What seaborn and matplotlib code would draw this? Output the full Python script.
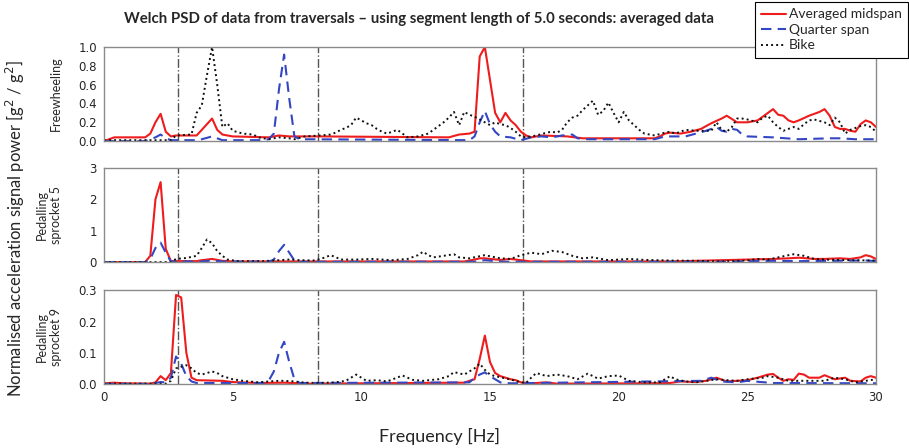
import numpy as np
import pandas as pd
import seaborn as sns
import matplotlib
matplotlib.use("Agg")
import matplotlib.pyplot as plt

# ---- data (frequency in Hz, normalised PSD) ----
series_names = ["Averaged midspan", "Quarter span", "Bike"]
panel_names = ["Freewheeling", "Pedalling\nsprocket 5", "Pedalling\nsprocket 9"]
marker_freqs = [2.87, 8.33, 16.27]

# Freewheeling
fw_mid_f = [0, 0.4, 1.6, 1.8, 2.0, 2.2, 2.4, 2.6, 2.8, 3.6,
            3.8, 4.0, 4.2, 4.4, 4.6, 5.0, 6.4, 6.8, 7.2, 8.4,
            13.4, 13.8, 14.2, 14.4, 14.6, 14.8, 15.0, 15.2, 15.4, 15.6,
            15.8, 16.0, 16.2, 16.4, 16.6, 17.0, 18.0, 18.6, 19.0, 21.4,
            21.6, 21.8, 22.0, 22.4, 22.8, 23.2, 23.6, 24.0, 24.2, 24.6,
            25.0, 25.4, 25.8, 26.0, 26.2, 26.4, 26.6, 26.8, 27.0, 27.4,
            27.8, 28.0, 28.2, 28.4, 28.6, 28.8, 29.0, 29.2, 29.4, 29.6,
            29.8, 30.0]
fw_mid = [0.0, 0.04, 0.04, 0.08, 0.2, 0.29, 0.1, 0.05, 0.06, 0.06,
          0.12, 0.18, 0.24, 0.12, 0.07, 0.05, 0.04, 0.06, 0.05, 0.05,
          0.04, 0.07, 0.08, 0.1, 0.9, 1.0, 0.65, 0.3, 0.2, 0.3,
          0.22, 0.17, 0.1, 0.06, 0.04, 0.06, 0.05, 0.03, 0.03, 0.03,
          0.05, 0.08, 0.09, 0.08, 0.1, 0.13, 0.19, 0.24, 0.27, 0.2,
          0.2, 0.22, 0.3, 0.34, 0.28, 0.27, 0.22, 0.2, 0.22, 0.27,
          0.31, 0.34, 0.27, 0.15, 0.13, 0.13, 0.11, 0.1, 0.18, 0.22,
          0.2, 0.15]

fw_qtr_f = [0, 1.6, 1.8, 2.0, 2.2, 2.4, 2.6, 3.6, 3.8, 4.2,
            4.4, 4.6, 6.2, 6.4, 6.6, 6.8, 7.0, 7.2, 7.4, 7.6,
            14.2, 14.4, 14.6, 14.8, 15.0, 15.2, 15.4, 15.8, 16.2, 16.6,
            17.0, 17.4, 17.8, 18.2, 18.4, 18.8, 21.4, 21.8, 22.6, 23.0,
            23.4, 23.8, 24.0, 24.2, 24.4, 24.6, 24.8, 25.0, 26.0, 27.0,
            28.2, 28.6, 29.2, 30.0]
fw_qtr = [0.0, 0.0, 0.02, 0.04, 0.07, 0.03, 0.01, 0.01, 0.02, 0.05,
          0.03, 0.01, 0.01, 0.02, 0.08, 0.55, 0.92, 0.45, 0.05, 0.02,
          0.01, 0.05, 0.2, 0.32, 0.18, 0.1, 0.05, 0.04, 0.01, 0.04,
          0.05, 0.04, 0.06, 0.07, 0.03, 0.02, 0.02, 0.05, 0.05, 0.08,
          0.11, 0.15, 0.11, 0.1, 0.13, 0.12, 0.07, 0.05, 0.04, 0.02,
          0.03, 0.03, 0.02, 0.02]

fw_bike_f = [0, 2.6, 2.8, 3.4, 3.6, 3.8, 4.0, 4.2, 4.4, 4.6,
             4.8, 5.0, 5.4, 5.8, 6.0, 6.4, 6.8, 7.2, 7.4, 7.8,
             8.4, 8.8, 9.0, 9.2, 9.4, 9.6, 9.8, 10.0, 10.2, 10.4,
             10.6, 10.8, 11.0, 11.2, 11.4, 11.6, 11.8, 12.2, 12.6, 12.8,
             13.0, 13.2, 13.4, 13.6, 13.8, 14.0, 14.2, 14.4, 14.6, 14.8,
             15.0, 15.2, 15.4, 15.6, 15.8, 16.0, 16.2, 16.4, 16.8, 17.2,
             17.4, 17.6, 17.8, 18.0, 18.2, 18.4, 18.6, 18.8, 19.0, 19.2,
             19.4, 19.6, 19.8, 20.0, 20.2, 20.4, 20.6, 20.8, 21.0, 21.4,
             21.8, 22.0, 22.2, 22.6, 23.0, 23.6, 23.8, 24.0, 24.2, 24.4,
             24.6, 24.8, 25.0, 25.4, 25.6, 25.8, 26.0, 26.2, 26.4, 26.8,
             27.0, 27.2, 27.4, 27.6, 28.0, 28.2, 28.4, 28.6, 28.8, 29.0,
             29.4, 29.6, 29.8, 30.0]
fw_bike = [0.01, 0.01, 0.06, 0.07, 0.3, 0.38, 0.7, 1.0, 0.6, 0.15,
           0.19, 0.11, 0.08, 0.07, 0.04, 0.02, 0.04, 0.03, 0.02, 0.05,
           0.06, 0.07, 0.09, 0.12, 0.14, 0.17, 0.25, 0.22, 0.19, 0.17,
           0.13, 0.1, 0.08, 0.1, 0.12, 0.08, 0.04, 0.05, 0.08, 0.12,
           0.16, 0.2, 0.25, 0.31, 0.17, 0.31, 0.28, 0.26, 0.23, 0.2,
           0.17, 0.2, 0.18, 0.17, 0.14, 0.1, 0.05, 0.04, 0.06, 0.09,
           0.1, 0.09, 0.12, 0.2, 0.25, 0.27, 0.33, 0.38, 0.43, 0.28,
           0.32, 0.41, 0.3, 0.2, 0.31, 0.22, 0.17, 0.12, 0.08, 0.06,
           0.09, 0.1, 0.08, 0.12, 0.11, 0.11, 0.2, 0.12, 0.1, 0.15,
           0.24, 0.24, 0.23, 0.2, 0.25, 0.27, 0.2, 0.15, 0.11, 0.15,
           0.13, 0.18, 0.22, 0.23, 0.2, 0.17, 0.25, 0.2, 0.08, 0.12,
           0.16, 0.17, 0.15, 0.1]

# Pedalling sprocket 5
p5_mid_f = [0, 1.6, 1.8, 2.0, 2.2, 2.4, 2.6, 3.6, 3.8, 4.0,
            4.2, 4.4, 4.6, 5.0, 14.0, 14.4, 14.6, 14.8, 15.0, 15.4,
            15.8, 16.2, 16.6, 22.0, 23.0, 24.0, 25.0, 26.0, 26.6, 27.0,
            27.6, 28.0, 28.6, 29.0, 29.4, 29.6, 29.8, 30.0]
p5_mid = [0.0, 0.0, 0.2, 2.0, 2.55, 0.42, 0.03, 0.03, 0.06, 0.08,
          0.1, 0.07, 0.04, 0.02, 0.02, 0.08, 0.12, 0.12, 0.1, 0.07,
          0.1, 0.06, 0.02, 0.02, 0.04, 0.06, 0.08, 0.1, 0.12, 0.14,
          0.1, 0.1, 0.12, 0.1, 0.15, 0.22, 0.18, 0.1]

p5_qtr_f = [0, 1.6, 1.8, 2.0, 2.2, 2.4, 2.6, 3.8, 4.2, 4.6,
            6.4, 6.6, 6.8, 7.0, 7.2, 7.4, 7.6, 14.4, 14.8, 15.2,
            15.6, 24.0, 26.0, 27.0, 29.6, 30.0]
p5_qtr = [0.0, 0.0, 0.1, 0.45, 0.62, 0.3, 0.02, 0.02, 0.05, 0.02,
          0.01, 0.08, 0.35, 0.55, 0.3, 0.05, 0.01, 0.01, 0.06, 0.03,
          0.01, 0.01, 0.04, 0.03, 0.05, 0.03]

p5_bike_f = [0, 2.6, 2.8, 3.2, 3.6, 3.8, 4.0, 4.2, 4.4, 4.6,
             4.8, 5.2, 6.2, 6.8, 7.2, 7.6, 8.2, 8.6, 8.8, 9.0,
             9.2, 9.8, 10.4, 11.2, 11.8, 12.2, 12.4, 12.6, 12.8, 13.2,
             13.6, 13.8, 14.2, 14.8, 15.4, 15.8, 16.2, 16.6, 17.0, 17.4,
             17.8, 18.2, 18.6, 19.0, 19.6, 20.4, 21.0, 22.0, 23.0, 24.0,
             25.0, 25.4, 25.8, 26.2, 26.6, 26.8, 27.2, 27.6, 28.0, 29.0,
             30.0]
p5_bike = [0.0, 0.0, 0.1, 0.13, 0.2, 0.45, 0.72, 0.6, 0.35, 0.2,
           0.08, 0.03, 0.03, 0.06, 0.08, 0.06, 0.05, 0.15, 0.22, 0.16,
           0.08, 0.08, 0.1, 0.06, 0.1, 0.22, 0.33, 0.22, 0.15, 0.2,
           0.25, 0.15, 0.12, 0.22, 0.12, 0.1, 0.22, 0.3, 0.25, 0.36,
           0.32, 0.2, 0.12, 0.15, 0.06, 0.1, 0.07, 0.05, 0.04, 0.02,
           0.05, 0.1, 0.08, 0.15, 0.22, 0.25, 0.2, 0.1, 0.08, 0.06,
           0.05]

# Pedalling sprocket 9
p9_mid_f = [0, 0.4, 0.8, 1.8, 2.0, 2.2, 2.4, 2.6, 2.8, 3.0,
            3.2, 3.4, 3.6, 4.6, 5.0, 6.0, 7.0, 8.0, 12.0, 14.0,
            14.2, 14.4, 14.6, 14.8, 15.0, 15.2, 15.4, 15.6, 15.8, 16.0,
            16.2, 16.6, 17.2, 17.6, 21.0, 22.0, 22.4, 23.0, 23.4, 23.8,
            24.2, 24.6, 25.0, 25.4, 25.8, 26.0, 26.2, 26.4, 26.6, 26.8,
            27.0, 27.2, 27.4, 27.8, 28.0, 28.4, 28.8, 29.0, 29.4, 29.6,
            29.8, 30.0]
p9_mid = [0.002, 0.004, 0.002, 0.001, 0.005, 0.025, 0.012, 0.035, 0.285, 0.277,
          0.1, 0.02, 0.012, 0.01, 0.006, 0.003, 0.004, 0.001, 0.003, 0.004,
          0.01, 0.015, 0.08, 0.155, 0.07, 0.035, 0.025, 0.02, 0.015, 0.012,
          0.005, 0.002, 0.005, 0.001, 0.002, 0.003, 0.008, 0.006, 0.01, 0.02,
          0.008, 0.01, 0.012, 0.02, 0.03, 0.032, 0.02, 0.01, 0.015, 0.013,
          0.033, 0.03, 0.02, 0.02, 0.028, 0.015, 0.02, 0.01, 0.008, 0.02,
          0.025, 0.02]

p9_qtr_f = [0, 1.8, 2.2, 2.4, 2.6, 2.8, 3.0, 3.2, 3.4, 3.6,
            6.2, 6.4, 6.6, 6.8, 7.0, 7.2, 7.4, 7.6, 14.2, 14.4,
            14.6, 14.8, 15.0, 15.2, 15.4, 15.8, 23.2, 23.6, 24.0, 24.6,
            25.0, 25.4, 26.0, 30.0]
p9_qtr = [0.0, 0.0, 0.006, 0.005, 0.02, 0.088, 0.065, 0.025, 0.008, 0.003,
          0.003, 0.01, 0.04, 0.1, 0.135, 0.07, 0.015, 0.003, 0.005, 0.02,
          0.03, 0.037, 0.025, 0.015, 0.005, 0.002, 0.01, 0.02, 0.008, 0.005,
          0.01, 0.007, 0.003, 0.002]

p9_bike_f = [0, 2.4, 2.6, 2.8, 3.0, 3.2, 3.4, 3.6, 3.8, 4.0,
             4.2, 4.4, 4.6, 4.8, 5.0, 5.4, 6.0, 6.4, 6.8, 7.0,
             7.4, 7.8, 8.4, 9.0, 9.4, 9.8, 10.2, 10.6, 11.0, 11.6,
             12.0, 12.4, 13.0, 13.4, 13.6, 14.0, 14.4, 14.6, 14.8, 15.0,
             15.2, 15.6, 16.0, 16.2, 16.4, 16.6, 16.8, 17.2, 17.6, 18.0,
             18.4, 18.8, 19.2, 19.6, 20.0, 20.4, 21.0, 21.6, 22.0, 22.2,
             22.6, 23.0, 23.4, 23.8, 24.2, 24.6, 25.0, 25.6, 25.8, 26.2,
             26.6, 27.2, 28.0, 28.4, 28.8, 29.2, 29.6, 30.0]
p9_bike = [0.001, 0.001, 0.01, 0.05, 0.055, 0.06, 0.05, 0.035, 0.03, 0.035,
           0.04, 0.035, 0.025, 0.02, 0.015, 0.01, 0.005, 0.008, 0.01, 0.01,
           0.008, 0.004, 0.003, 0.005, 0.01, 0.03, 0.01, 0.012, 0.008, 0.027,
           0.013, 0.01, 0.015, 0.025, 0.038, 0.03, 0.05, 0.065, 0.045, 0.03,
           0.025, 0.018, 0.01, 0.005, 0.003, 0.02, 0.035, 0.025, 0.03, 0.025,
           0.015, 0.033, 0.017, 0.025, 0.027, 0.01, 0.005, 0.005, 0.025, 0.015,
           0.008, 0.005, 0.01, 0.015, 0.012, 0.01, 0.015, 0.02, 0.025, 0.02,
           0.01, 0.01, 0.01, 0.02, 0.015, 0.005, 0.01, 0.015]

y_limits = [1.0, 3.0, 0.3]
y_ticks = [[0.0, 0.2, 0.4, 0.6, 0.8, 1.0], [0, 1, 2, 3], [0.0, 0.1, 0.2, 0.3]]
x_ticks = [0, 5, 10, 15, 20, 25, 30]

panels = [
    [(fw_mid_f, fw_mid), (fw_qtr_f, fw_qtr), (fw_bike_f, fw_bike)],
    [(p5_mid_f, p5_mid), (p5_qtr_f, p5_qtr), (p5_bike_f, p5_bike)],
    [(p9_mid_f, p9_mid), (p9_qtr_f, p9_qtr), (p9_bike_f, p9_bike)],
]

# ---- styling ----
sns.set_theme(style="white")
plt.rcParams["font.family"] = ["DejaVu Sans"]
label_font = "Lato"

colors = ["#ee1c1c", "#3346c4", "#111111"]
styles = ["-", (0, (5, 3)), (0, (1, 1.6))]
widths = [1.5, 1.5, 1.4]

fig = plt.figure(figsize=(9.09, 4.48), dpi=100)
ax_boxes = [(0.1144, 0.685, 0.8493, 0.210),
            (0.1144, 0.415, 0.8493, 0.210),
            (0.1144, 0.143, 0.8493, 0.209)]

axes = []
for i, box in enumerate(ax_boxes):
    ax = fig.add_axes(box)
    for j, (f, v) in enumerate(panels[i]):
        sns.lineplot(x=f, y=v, ax=ax, color=colors[j], linestyle=styles[j],
                     linewidth=widths[j], label=series_names[j] if i == 0 else None,
                     legend=False)
    for xf in marker_freqs:
        ax.axvline(xf, color="#555555", linestyle="-.", linewidth=1.0, zorder=0)
    ax.set_xlim(0, 30)
    ax.set_ylim(0, y_limits[i])
    ax.set_xticks(x_ticks)
    ax.set_yticks(y_ticks[i])
    ax.tick_params(axis="both", direction="out", length=3, width=0.8,
                   color="#808080", labelsize=8.5, pad=2)
    if i < 2:
        ax.set_xticklabels([])
    for sp in ax.spines.values():
        sp.set_color("#8a8a8a")
        sp.set_linewidth(1.0)
    ax.set_ylabel(panel_names[i], family=label_font, fontsize=9,
                  linespacing=1.15)
    ax.yaxis.set_label_coords(-0.055, 0.5)
    axes.append(ax)

# figure level texts
fig.text(0.461, 0.958, "Welch PSD of data from traversals \u2013 using segment length of 5.0 seconds: averaged data",
         ha="center", va="center", family=label_font, fontweight="bold", fontsize=10.8)
fig.text(0.017, 0.49, "Normalised acceleration signal power [g$^2$ / g$^2$]",
         rotation=90, ha="center", va="center", family=label_font, fontsize=12)
fig.text(0.484, 0.025, "Frequency [Hz]", ha="center", va="center",
         family=label_font, fontsize=13)

handles = axes[0].get_lines()[:3]
leg = fig.legend(handles, series_names, loc="upper right",
                 bbox_to_anchor=(0.999, 0.995), frameon=True, fancybox=False,
                 edgecolor="black", framealpha=1, borderpad=0.45,
                 labelspacing=0.25, handlelength=1.8, handletextpad=0.2,
                 borderaxespad=0, prop={"family": label_font, "size": 10})
leg.get_frame().set_linewidth(0.8)

fig.savefig("out.png", dpi=100)
